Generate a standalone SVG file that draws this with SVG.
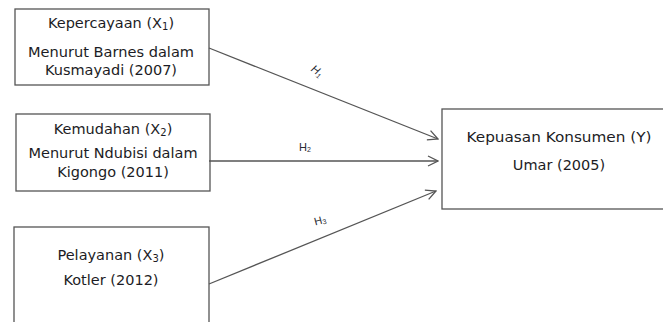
<svg xmlns="http://www.w3.org/2000/svg" width="663" height="322" viewBox="0 0 663 322">
  <style>
    .box { fill: #ffffff; stroke: #555555; stroke-width: 1.3; }
    .lbl { font-family: "DejaVu Sans", Verdana, sans-serif; font-size: 14.5px; fill: #1c1c24; text-anchor: middle; }
    .hyp { font-family: "Liberation Sans", Arial, sans-serif; font-size: 11px; fill: #2a2a33; text-anchor: middle; }
    .edge { stroke: #555555; stroke-width: 1.3; fill: none; marker-end: url(#chev); }
  </style>
  <defs>
    <marker id="chev" viewBox="0 0 12 12" refX="11" refY="6" markerWidth="12" markerHeight="12" markerUnits="userSpaceOnUse" orient="auto">
      <path d="M1,1 L11,6 L1,11" fill="none" stroke="#555555" stroke-width="1.3"/>
    </marker>
  </defs>
  <rect width="663" height="322" fill="#ffffff"/>

  <g id="node-x1">
    <rect class="box" x="15" y="9" width="194" height="76"/>
    <text class="lbl" x="111" y="28">Kepercayaan (X<tspan font-size="10" dy="2">1</tspan><tspan dy="-2">)</tspan></text>
    <text class="lbl" x="111" y="56.5" textLength="166" lengthAdjust="spacingAndGlyphs">Menurut Barnes dalam</text>
    <text class="lbl" x="111" y="74.5">Kusmayadi (2007)</text>
  </g>

  <g id="node-x2">
    <rect class="box" x="16" y="114" width="194" height="77"/>
    <text class="lbl" x="113" y="134">Kemudahan (X<tspan font-size="10" dy="2">2</tspan><tspan dy="-2">)</tspan></text>
    <text class="lbl" x="113" y="158">Menurut Ndubisi dalam</text>
    <text class="lbl" x="113" y="177">Kigongo (2011)</text>
  </g>

  <g id="node-x3">
    <rect class="box" x="14" y="227" width="195" height="110"/>
    <text class="lbl" x="111" y="259.5">Pelayanan (X<tspan font-size="10" dy="2">3</tspan><tspan dy="-2">)</tspan></text>
    <text class="lbl" x="111" y="285">Kotler (2012)</text>
  </g>

  <g id="node-y">
    <rect class="box" x="442" y="109" width="230" height="100"/>
    <text class="lbl" x="559" y="142" textLength="185" lengthAdjust="spacingAndGlyphs">Kepuasan Konsumen (Y)</text>
    <text class="lbl" x="559" y="170">Umar (2005)</text>
  </g>

  <g id="connectors">
    <line class="edge" x1="209" y1="48" x2="438" y2="139"/>
    <line class="edge" x1="209" y1="161" x2="438" y2="161"/>
    <line class="edge" x1="209" y1="284" x2="436" y2="191"/>
    <text class="hyp" font-style="italic" transform="translate(315,74) rotate(35)">H<tspan font-size="7" dy="2">1</tspan></text>
    <text class="hyp" x="305" y="151">H<tspan font-size="7" dy="1">2</tspan></text>
    <text class="hyp" transform="translate(321,224) rotate(-15)">H<tspan font-size="7" dy="1">3</tspan></text>
  </g>
</svg>
